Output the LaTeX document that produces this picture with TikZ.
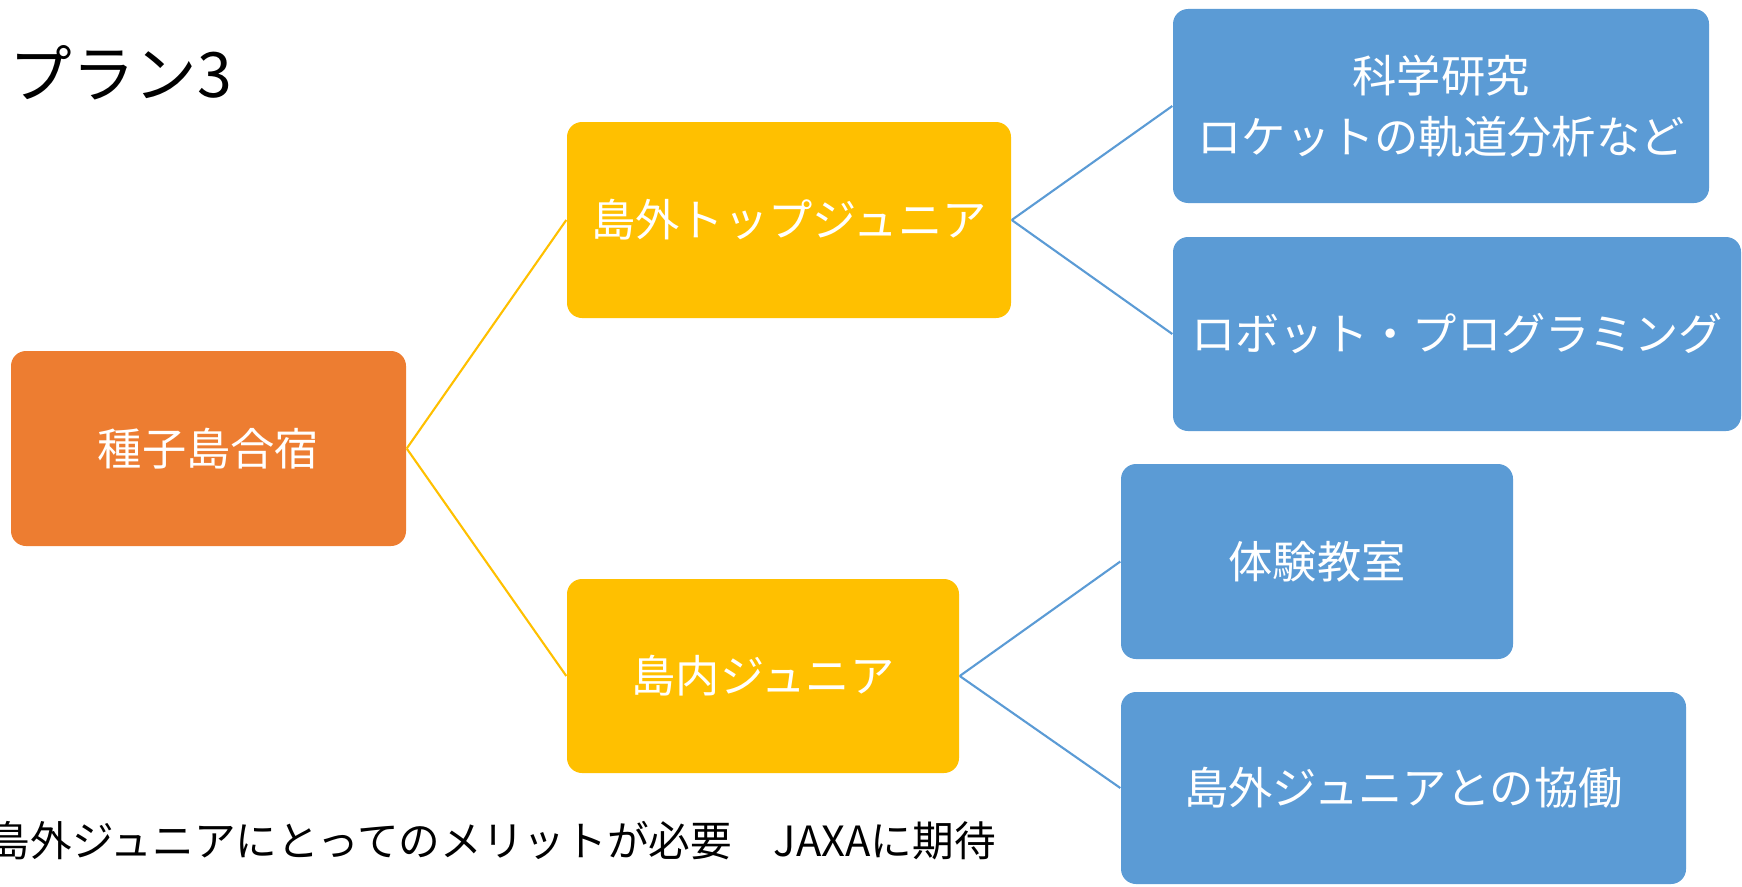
\documentclass[tikz,border=0pt]{standalone}
\usepackage{fontspec}
\setmainfont{Noto Sans CJK JP}
\usepackage{xcolor}
\usepackage{tikz}

\definecolor{rootorange}{HTML}{ED7D31}
\definecolor{midgold}{HTML}{FFC000}
\definecolor{leafblue}{HTML}{5B9BD5}

\begin{document}
\begin{tikzpicture}[
        box/.style={rectangle, rounded corners=0.15cm, inner sep=0pt, text=white, align=center,
            font=\fontsize{12.6pt}{17.4pt}\selectfont},
        rootbox/.style={box, fill=rootorange},
        midbox/.style={box, fill=midgold},
        leafbox/.style={box, fill=leafblue},
        goldline/.style={midgold, line width=0.6pt},
        blueline/.style={leafblue, line width=0.6pt}
    ]
        % Page size
        \useasboundingbox (0,0) rectangle (17.42,-8.86);

        % Title
        \node[anchor=west, inner sep=0pt, font=\fontsize{17.8pt}{20pt}\selectfont] (title) at (0.09,-0.73) {プラン3};

        % Root
        \node[rootbox, minimum width=3.95cm, minimum height=1.95cm] (camp) at (2.085,-4.485) {種子島合宿};

        % Second level
        \node[midbox, minimum width=4.44cm, minimum height=1.96cm] (outer) at (7.89,-2.20) {島外トップジュニア};
        \node[midbox, minimum width=3.92cm, minimum height=1.94cm] (inner) at (7.63,-6.76) {島内ジュニア};

        % Third level
        \node[leafbox, minimum width=5.36cm, minimum height=1.94cm] (science) at (14.41,-1.06) {科学研究\\ロケットの軌道分析など};
        \node[leafbox, minimum width=5.68cm, minimum height=1.94cm] (robot) at (14.57,-3.34) {ロボット・プログラミング};
        \node[leafbox, minimum width=3.92cm, minimum height=1.95cm] (class) at (13.17,-5.615) {体験教室};
        \node[leafbox, minimum width=5.65cm, minimum height=1.92cm] (collab) at (14.035,-7.88) {島外ジュニアとの協働};

        % Connectors
        \draw[goldline] (camp.east) -- (outer.west);
        \draw[goldline] (camp.east) -- (inner.west);
        \draw[blueline] (outer.east) -- (science.west);
        \draw[blueline] (outer.east) -- (robot.west);
        \draw[blueline] (inner.east) -- (class.west);
        \draw[blueline] (inner.east) -- (collab.west);

        % Note at the bottom
        \node[anchor=west, inner sep=0pt, font=\fontsize{11.85pt}{14pt}\selectfont] (note) at (-0.12,-8.41) {島外ジュニアにとってのメリットが必要　JAXAに期待};

    \end{tikzpicture}
\end{document}
